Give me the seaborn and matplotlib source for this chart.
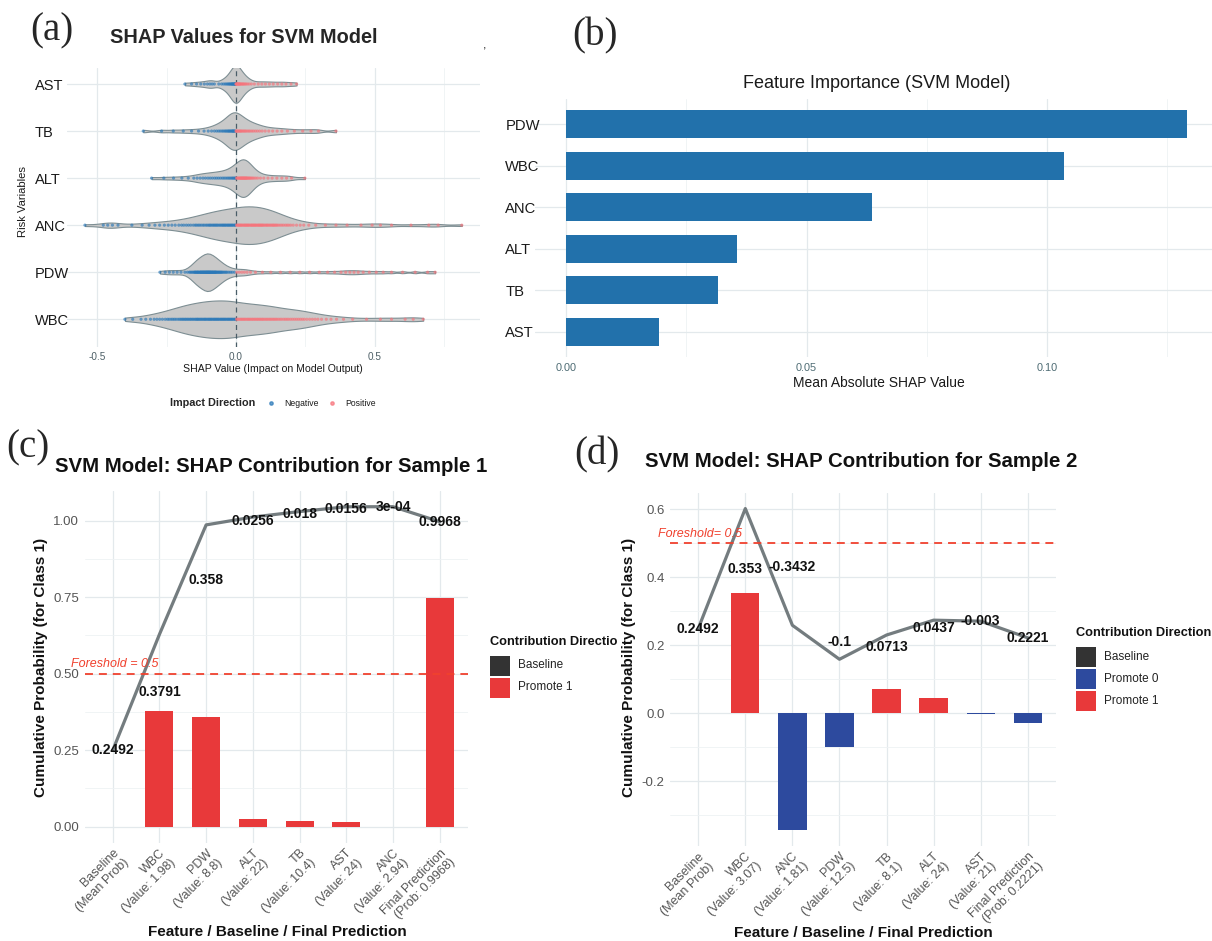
import numpy as np
import pandas as pd
import matplotlib
matplotlib.use("Agg")
import matplotlib.pyplot as plt
import seaborn as sns
from matplotlib.patches import Rectangle
from matplotlib.lines import Line2D
from matplotlib.transforms import Bbox, TransformedBbox

# ---------------------------------------------------------------- data
shap_features = ["AST", "TB", "ALT", "ANC", "PDW", "WBC"]

shap_ast = [-0.184, -0.160, -0.142, -0.127, -0.114, -0.103, -0.094, -0.086,
            -0.078, -0.062, -0.052, -0.045, -0.039, -0.034, -0.030, -0.026, -0.023,
            -0.020, -0.017, -0.015, -0.013, -0.011, -0.009, -0.007, -0.005, -0.004,
            -0.002, -0.001, 0.000, 0.001, 0.003, 0.004, 0.006, 0.008, 0.010, 0.012,
            0.014, 0.016, 0.019, 0.022, 0.025, 0.028, 0.032, 0.036, 0.041, 0.047,
            0.055, 0.066, 0.080, 0.093, 0.106, 0.120, 0.134, 0.150, 0.165, 0.180,
            0.198, 0.218]

shap_tb = [-0.334, -0.268, -0.226, -0.190, -0.160, -0.135, -0.115, -0.100,
           -0.088, -0.078, -0.070, -0.063, -0.057, -0.051, -0.046, -0.041, -0.037,
           -0.033, -0.029, -0.026, -0.023, -0.020, -0.017, -0.014, -0.012, -0.010,
           -0.008, -0.005, -0.003, 0.000, 0.002, 0.005, 0.008, 0.011, 0.014, 0.017,
           0.020, 0.024, 0.028, 0.032, 0.036, 0.041, 0.046, 0.051, 0.057, 0.063,
           0.070, 0.077, 0.085, 0.094, 0.105, 0.118, 0.132, 0.148, 0.165, 0.185,
           0.210, 0.240, 0.270, 0.297, 0.360]

shap_alt = [-0.304, -0.260, -0.225, -0.195, -0.172, -0.152, -0.140, -0.129, -0.119,
            -0.110, -0.101, -0.093, -0.085, -0.077, -0.070, -0.063, -0.056, -0.049,
            -0.043, -0.037, -0.031, -0.026, -0.021, -0.016, -0.012, -0.008, -0.004,
            -0.001, 0.002, 0.005, 0.008, 0.011, 0.014, 0.016, 0.018, 0.020, 0.022,
            0.024, 0.026, 0.028, 0.030, 0.032, 0.034, 0.036, 0.038, 0.040, 0.043,
            0.046, 0.049, 0.052, 0.056, 0.060, 0.065, 0.071, 0.078, 0.088, 0.100,
            0.115, 0.130, 0.147, 0.165, 0.182, 0.200, 0.248]

shap_anc = [-0.544, -0.478, -0.462, -0.445, -0.425, -0.375, -0.338, -0.313, -0.292,
            -0.275, -0.258, -0.244, -0.231, -0.219, -0.206, -0.196, -0.188, -0.179,
            -0.171, -0.163, -0.154, -0.147, -0.142, -0.136, -0.131, -0.125, -0.119,
            -0.114, -0.108, -0.103, -0.098, -0.094, -0.090, -0.085, -0.081, -0.077,
            -0.073, -0.069, -0.065, -0.060, -0.056, -0.052, -0.048, -0.045, -0.041,
            -0.038, -0.034, -0.030, -0.027, -0.023, -0.020, -0.016, -0.013, -0.009,
            -0.005, -0.002, 0.002, 0.005, 0.008, 0.011, 0.014, 0.017, 0.020, 0.023,
            0.027, 0.030, 0.033, 0.036, 0.039, 0.042, 0.045, 0.048, 0.052, 0.055,
            0.058, 0.061, 0.064, 0.067, 0.070, 0.073, 0.077, 0.080, 0.083, 0.086,
            0.089, 0.092, 0.095, 0.098, 0.102, 0.106, 0.110, 0.113, 0.117, 0.121,
            0.125, 0.129, 0.133, 0.136, 0.140, 0.144, 0.148, 0.153, 0.159, 0.165,
            0.171, 0.178, 0.184, 0.190, 0.197, 0.206, 0.218, 0.231, 0.244, 0.262,
            0.287, 0.322, 0.360, 0.400, 0.450, 0.490, 0.520, 0.560, 0.630, 0.694,
            0.728, 0.813]

shap_pdw = [-0.274, -0.255, -0.240, -0.226, -0.212, -0.198, -0.184, -0.175, -0.168,
            -0.164, -0.160, -0.156, -0.152, -0.149, -0.147, -0.145, -0.142, -0.140,
            -0.138, -0.136, -0.134, -0.131, -0.129, -0.127, -0.126, -0.124, -0.122,
            -0.120, -0.119, -0.117, -0.115, -0.114, -0.112, -0.110, -0.109, -0.107,
            -0.106, -0.104, -0.103, -0.101, -0.100, -0.098, -0.097, -0.095, -0.094,
            -0.092, -0.091, -0.089, -0.087, -0.085, -0.084, -0.082, -0.080, -0.078,
            -0.076, -0.075, -0.073, -0.071, -0.069, -0.066, -0.064, -0.061, -0.059,
            -0.056, -0.054, -0.051, -0.048, -0.044, -0.040, -0.036, -0.032, -0.026,
            -0.020, -0.014, -0.006, 0.003, 0.012, 0.021, 0.030, 0.040, 0.052, 0.070,
            0.095, 0.125, 0.160, 0.195, 0.230, 0.265, 0.300, 0.330, 0.355, 0.378,
            0.395, 0.410, 0.425, 0.440, 0.458, 0.480, 0.505, 0.530, 0.560, 0.600,
            0.645, 0.690, 0.717]

shap_wbc = [-0.400, -0.372, -0.342, -0.325, -0.308, -0.295, -0.285, -0.275, -0.265,
            -0.255, -0.247, -0.241, -0.234, -0.228, -0.222, -0.216, -0.209, -0.203,
            -0.198, -0.193, -0.189, -0.184, -0.180, -0.175, -0.171, -0.166, -0.162,
            -0.157, -0.153, -0.148, -0.144, -0.140, -0.137, -0.133, -0.129, -0.125,
            -0.121, -0.117, -0.113, -0.110, -0.106, -0.102, -0.098, -0.095, -0.091,
            -0.088, -0.084, -0.080, -0.077, -0.073, -0.070, -0.066, -0.063, -0.059,
            -0.055, -0.052, -0.048, -0.045, -0.041, -0.038, -0.034, -0.030, -0.027,
            -0.023, -0.020, -0.016, -0.013, -0.009, -0.005, -0.002, 0.002, 0.006,
            0.010, 0.015, 0.019, 0.023, 0.027, 0.031, 0.035, 0.040, 0.044, 0.048,
            0.052, 0.057, 0.061, 0.066, 0.070, 0.075, 0.079, 0.084, 0.088, 0.093,
            0.097, 0.102, 0.107, 0.112, 0.117, 0.122, 0.127, 0.132, 0.137, 0.142,
            0.147, 0.153, 0.159, 0.165, 0.172, 0.178, 0.184, 0.190, 0.197, 0.204,
            0.211, 0.218, 0.225, 0.232, 0.239, 0.246, 0.255, 0.265, 0.275, 0.285,
            0.295, 0.308, 0.325, 0.342, 0.362, 0.387, 0.420, 0.470, 0.520, 0.560,
            0.609, 0.638, 0.674]

importance_features = ["PDW", "WBC", "ANC", "ALT", "TB", "AST"]
importance_values = [0.1292, 0.1036, 0.0635, 0.0356, 0.0316, 0.0192]

sample1_labels = ["Baseline\n(Mean Prob)", "WBC\n(Value: 1.98)", "PDW\n(Value: 8.8)",
                  "ALT\n(Value: 22)", "TB\n(Value: 10.4)", "AST\n(Value: 24)",
                  "ANC\n(Value: 2.94)", "Final Prediction\n(Prob: 0.9968)"]
sample1_baseline = 0.2492
sample1_contrib = [0.3791, 0.358, 0.0256, 0.018, 0.0156, 0.0003]
sample1_final = 0.9968

sample2_labels = ["Baseline\n(Mean Prob)", "WBC\n(Value: 3.07)", "ANC\n(Value: 1.81)",
                  "PDW\n(Value: 12.5)", "TB\n(Value: 8.1)", "ALT\n(Value: 24)",
                  "AST\n(Value: 21)", "Final Prediction\n(Prob: 0.2221)"]
sample2_baseline = 0.2492
sample2_contrib = [0.353, -0.3432, -0.1, 0.0713, 0.0437, -0.003]
sample2_final = 0.2221

threshold = 0.5

# ---------------------------------------------------------------- style
sns.set_theme(style="white")
plt.rcParams["font.family"] = ["Liberation Sans", "DejaVu Sans"]
plt.rcParams["axes.unicode_minus"] = False

W, H, DPI = 1212, 941, 100
fig = plt.figure(figsize=(W / DPI, H / DPI), dpi=DPI, facecolor="white")

GRID = "#e3e9ec"
GRID_MINOR = "#eef2f4"
NEG_COL, POS_COL = "#2a78b8", "#f7737b"
RED, BLUE, DARK = "#e8393a", "#2d4a9e", "#333333"
THR_COL = "#f0412e"
FILL = {"Baseline": DARK, "Promote 0": BLUE, "Promote 1": RED}
SERIF = ["Liberation Serif", "DejaVu Serif"]


def px_axes(box):
    x0, y0, x1, y1 = box
    return fig.add_axes([x0 / W, 1 - y1 / H, (x1 - x0) / W, (y1 - y0) / H])


def px_text(x, y, s, **kw):
    return fig.text(x / W, 1 - y / H, s, **kw)


def axes_frac(box, x, y):
    x0, y0, x1, y1 = box
    return (x - x0) / (x1 - x0), (y1 - y) / (y1 - y0)


def clean(ax):
    for s in ax.spines.values():
        s.set_visible(False)
    ax.tick_params(axis="both", which="both", length=0)
    ax.set_axisbelow(True)


def fmt(v):
    if v != 0 and abs(v) < 1e-3:
        return f"{v:.0e}"
    return f"{round(v, 4):g}"


# ---------------------------------------------------------------- (a) violin + strip
box_a = (66.7, 68.3, 480, 346.7)
ax_a = px_axes(box_a)
shap_lists = [shap_ast, shap_tb, shap_alt, shap_anc, shap_pdw, shap_wbc]
df_a = pd.concat([pd.DataFrame({"feature": f, "shap": v})
                  for f, v in zip(shap_features, shap_lists)], ignore_index=True)
df_a["direction"] = np.where(df_a["shap"] < 0, "Negative", "Positive")

kde_bw = {"AST": 0.013, "TB": 0.018, "ALT": 0.02, "ANC": 0.03, "PDW": 0.012, "WBC": 0.032}
for f in shap_features:
    sub = df_a[df_a["feature"] == f]
    sns.violinplot(data=sub, x="shap", y="feature", order=shap_features, orient="h",
                   cut=0, density_norm="width", width=0.8, inner=None,
                   color="#c9c9c9", saturation=1, linecolor="#7d8e93", linewidth=0.8,
                   bw_method=kde_bw[f] / sub["shap"].std(), ax=ax_a)
ax_a.axvline(0, color="#4a5d68", lw=0.9, ls=(0, (4, 3)), zorder=2)
sns.stripplot(data=df_a, x="shap", y="feature", hue="direction", order=shap_features,
              hue_order=["Negative", "Positive"],
              palette={"Negative": NEG_COL, "Positive": POS_COL},
              jitter=False, size=2.3, alpha=0.65, linewidth=0, orient="h",
              legend=False, ax=ax_a, zorder=3)

ax_a.set_xlim(-0.6097, 0.8786)
ax_a.set_ylim(5.583, -0.334)
ax_a.set_xticks([-0.5, 0, 0.5], ["-0.5", "0.0", "0.5"])
ax_a.set_xticks([-0.25, 0.25, 0.75], minor=True)
ax_a.set_yticks(range(len(shap_features)), shap_features)
ax_a.grid(True, which="major", color=GRID, lw=0.9)
ax_a.grid(True, which="minor", axis="x", color=GRID_MINOR, lw=0.6)
clean(ax_a)
ax_a.tick_params(axis="x", labelsize=7.2, labelcolor="#4d5f66", pad=3.5)
ax_a.tick_params(axis="y", labelsize=10.5, labelcolor="#1a1a1a", pad=22.8)
plt.setp(ax_a.get_yticklabels(), ha="left")
ax_a.set_xlabel("SHAP Value (Impact on Model Output)", fontsize=7.6, color="#1a1a1a")
ax_a.xaxis.set_label_coords(*axes_frac(box_a, 273.3, 369.3))
ax_a.xaxis.label.set_va("center")
ax_a.set_ylabel("Risk Variables", fontsize=8.1, color="#1a1a1a")
ax_a.yaxis.set_label_coords(*axes_frac(box_a, 23.3, 201.7))
ax_a.yaxis.label.set_va("center")

px_text(52, 31, "(a)", family=SERIF, fontsize=28, ha="center", va="center")
px_text(110, 37.3, "SHAP Values for SVM Model", fontsize=14.3, fontweight="bold", va="center")
px_text(483, 46, ",", fontsize=9, va="center")

px_text(170, 403, "Impact Direction", fontsize=7.8, fontweight="bold", va="center")
for xd, name, col in [(270.7, "Negative", NEG_COL), (331.7, "Positive", POS_COL)]:
    fig.add_artist(Line2D([xd / W], [1 - 403 / H], marker="o", ms=2.4, color=col,
                          alpha=0.7, lw=0, transform=fig.transFigure))
    px_text(xd + 13.5, 403, name, fontsize=6.2, va="center", color="#1a1a1a")

# ---------------------------------------------------------------- (b) importance bars
box_b = (535, 99.3, 1212, 356.7)
ax_b = px_axes(box_b)
df_b = pd.DataFrame({"feature": importance_features, "importance": importance_values})
sns.barplot(data=df_b, x="importance", y="feature", order=importance_features, orient="h",
            color="#2271ab", saturation=1, width=0.68, linewidth=0, errorbar=None, ax=ax_b)
ax_b.set_xlim(-0.0065, 0.1343)
ax_b.set_ylim(5.6, -0.6)
ax_b.set_xticks([0, 0.05, 0.10], ["0.00", "0.05", "0.10"])
ax_b.set_xticks([0.025, 0.075, 0.125], minor=True)
ax_b.grid(True, which="major", color=GRID, lw=0.9)
ax_b.grid(True, which="minor", axis="x", color=GRID_MINOR, lw=0.6)
clean(ax_b)
ax_b.tick_params(axis="x", labelsize=7.8, labelcolor="#4d6b73", pad=4.5)
ax_b.tick_params(axis="y", labelsize=10.6, labelcolor="#1a1a1a", pad=21.3)
plt.setp(ax_b.get_yticklabels(), ha="left")
ax_b.set_ylabel("")
ax_b.set_xlabel("Mean Absolute SHAP Value", fontsize=10, color="#1a1a1a")
ax_b.xaxis.set_label_coords(*axes_frac(box_b, 879, 383))
ax_b.xaxis.label.set_va("center")
px_text(877, 83, "Feature Importance (SVM Model)", fontsize=13, ha="center", va="center",
        color="#1a1a1a")
px_text(595, 36, "(b)", family=SERIF, fontsize=28, ha="center", va="center")


# ---------------------------------------------------------------- (c), (d) waterfalls
def waterfall(box, labels, baseline, contrib, final, ymajor, ymajor_lab, yminor):
    ax = px_axes(box)
    contrib = np.asarray(contrib, float)
    cum = baseline + np.cumsum(contrib)
    path = np.concatenate([[baseline], cum, [final]])
    mids = (np.concatenate([[baseline], cum[:-1]]) + cum) / 2
    bar_vals = np.concatenate([contrib, [final - baseline]])
    dirs = ["Promote 1" if v > 0 else "Promote 0" for v in bar_vals]
    df = pd.DataFrame({"step": labels[1:], "value": bar_vals, "direction": dirs})
    present = sorted(set(dirs))
    sns.barplot(data=df, x="step", y="value", hue="direction", order=labels,
                hue_order=present, palette={k: FILL[k] for k in present}, dodge=False,
                width=0.6, saturation=1, errorbar=None, legend=False, linewidth=0,
                ax=ax, zorder=2)
    sns.lineplot(x=np.arange(len(labels)), y=path, color="#6c7578", lw=2.3, alpha=0.95,
                 sort=False, estimator=None, ax=ax, zorder=3,
                 solid_joinstyle="round", solid_capstyle="round")
    text_y = np.concatenate([[baseline], mids, [final]])
    text_v = np.concatenate([[baseline], contrib, [final]])
    for i, (y, v) in enumerate(zip(text_y, text_v)):
        ax.text(i, y, fmt(v), ha="center", va="center", fontsize=10,
                fontweight="bold", color="#111111", zorder=5)
    ax.axhline(threshold, color=THR_COL, lw=1.3, ls=(0, (4.4, 3.3)), zorder=4)

    lo = min(0.0, bar_vals.min(), path.min())
    hi = max(0.0, bar_vals.max(), path.max())
    pad = 0.05 * (hi - lo)
    ax.set_ylim(lo - pad, hi + pad)
    ax.set_xlim(-0.6, len(labels) - 0.4)
    ax.set_yticks(ymajor, ymajor_lab)
    ax.set_yticks(yminor, minor=True)
    ax.set_xticks(range(len(labels)))
    ax.set_xticklabels(labels, rotation=45, ha="right", va="top", rotation_mode="anchor",
                       fontsize=9, color="#555555")
    ax.grid(True, which="major", color=GRID, lw=0.9)
    ax.grid(True, which="minor", axis="y", color=GRID_MINOR, lw=0.6)
    clean(ax)
    ax.tick_params(axis="y", labelsize=9.5, labelcolor="#555555", pad=4)
    ax.tick_params(axis="x", pad=3)
    ax.set_xlabel("Feature / Baseline / Final Prediction", fontsize=11, fontweight="bold",
                  color="#111111")
    ax.set_ylabel("Cumulative Probability (for Class 1)", fontsize=11, fontweight="bold",
                  color="#111111")
    return ax, ["Baseline"] + present


def legend_block(x, y_title, entries, clip_right=None):
    t = px_text(x, y_title, "Contribution Direction", fontsize=9.2, fontweight="bold",
                va="center", color="#111111")
    if clip_right is not None:
        t.set_clip_box(TransformedBbox(Bbox([[0, 0], [clip_right / W, 1]]), fig.transFigure))
        t.set_clip_on(True)
    for k, name in enumerate(entries):
        top = y_title + 13.5 + 22 * k
        fig.add_artist(Rectangle((x / W, 1 - (top + 20) / H), 20 / W, 20 / H,
                                 transform=fig.transFigure, facecolor=FILL[name],
                                 edgecolor="none"))
        px_text(x + 28, top + 10, name, fontsize=8.5, va="center", color="#222222")


box_c = (84.7, 490.7, 467.7, 842.6)
ax_c, ent_c = waterfall(box_c, sample1_labels, sample1_baseline, sample1_contrib,
                        sample1_final, [0, 0.25, 0.5, 0.75, 1.0],
                        ["0.00", "0.25", "0.50", "0.75", "1.00"],
                        [0.125, 0.375, 0.625, 0.875])
ax_c.xaxis.set_label_coords(*axes_frac(box_c, 277, 932))
ax_c.xaxis.label.set_va("center")
ax_c.yaxis.set_label_coords(*axes_frac(box_c, 41.5, 667))
ax_c.yaxis.label.set_va("center")
px_text(71, 664, f"Foreshold = {threshold}", fontsize=9, style="italic", color=THR_COL,
        va="center")
px_text(55, 467, "SVM Model: SHAP Contribution for Sample 1", fontsize=14.7,
        fontweight="bold", va="center", color="#111111")
px_text(28, 448, "(c)", family=SERIF, fontsize=28, ha="center", va="center")
legend_block(490, 642, ent_c, clip_right=618)

box_d = (670, 492.5, 1056, 846.1)
ax_d, ent_d = waterfall(box_d, sample2_labels, sample2_baseline, sample2_contrib,
                        sample2_final, [-0.2, 0, 0.2, 0.4, 0.6],
                        ["-0.2", "0.0", "0.2", "0.4", "0.6"],
                        [-0.3, -0.1, 0.1, 0.3, 0.5])
ax_d.xaxis.set_label_coords(*axes_frac(box_d, 863, 933))
ax_d.xaxis.label.set_va("center")
ax_d.yaxis.set_label_coords(*axes_frac(box_d, 629, 667))
ax_d.yaxis.label.set_va("center")
px_text(658, 534, f"Foreshold= {threshold}", fontsize=9, style="italic", color=THR_COL,
        va="center")
px_text(644.6, 461.7, "SVM Model: SHAP Contribution for Sample 2", fontsize=14.7,
        fontweight="bold", va="center", color="#111111")
px_text(597, 455, "(d)", family=SERIF, fontsize=28, ha="center", va="center")
legend_block(1076, 633, ent_d)

fig.savefig("out.png", dpi=DPI, facecolor="white")
